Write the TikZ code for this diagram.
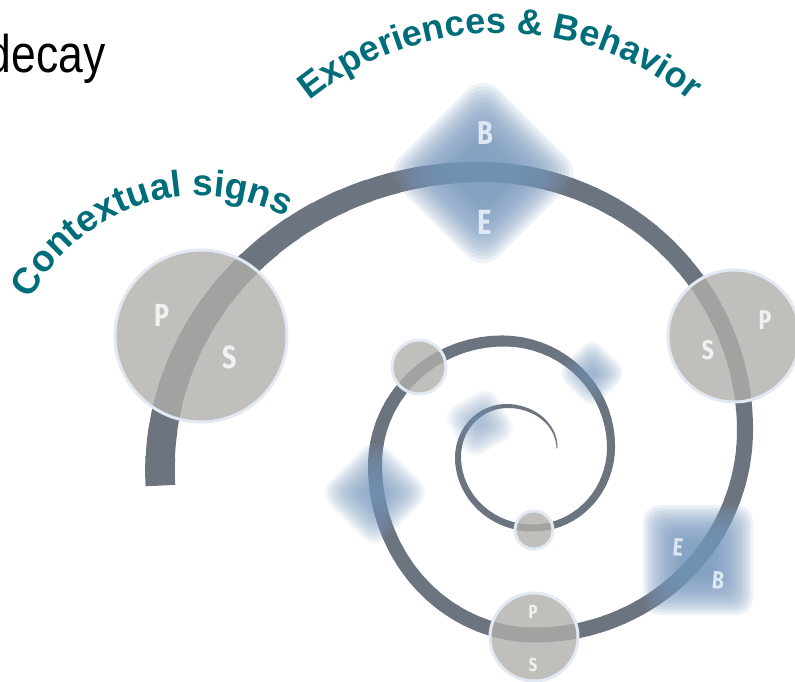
\documentclass[tikz,border=0pt]{standalone}
\usepackage{fontspec}
\usepackage{graphicx}
\usepackage{xcolor}
\setmainfont{Liberation Sans}
\newfontfamily\handfont{Fira Sans}
\usetikzlibrary{decorations.text}

\definecolor{bandgray}{RGB}{108,116,128}
\definecolor{blobblue}{RGB}{120,152,188}
\definecolor{discgray}{RGB}{176,175,170}
\definecolor{ringblue}{RGB}{226,233,242}
\definecolor{signteal}{RGB}{0,110,122}
\definecolor{letterwhite}{RGB}{240,241,242}
\definecolor{letterblue}{RGB}{222,232,243}
\newcommand{\signfont}{\bfseries\fontsize{37}{40}\selectfont}
\newcommand{\signfontb}{\bfseries\fontsize{36}{40}\selectfont}
\newcommand{\handletter}[1]{\scalebox{0.78}[1]{#1}}

\begin{document}
\begin{tikzpicture}[
    x=1pt, y=-1pt,
    band/.style={draw=bandgray},
    disc/.style={circle, fill=discgray, fill opacity=0.8, draw=ringblue, line width=3pt, inner sep=0pt},
    glyph/.style={text=letterwhite, inner sep=0pt},
    blobglyph/.style={text=letterblue, inner sep=0pt},
    arctext/.style={decorate, decoration={text along path, text align=center, text color=signteal}}
]
    \useasboundingbox (0,0) rectangle (795,682);

    % Spiral band, thinner towards the centre
    \foreach \cx/\cy/\rx/\ry/\a/\d/\wa/\wb in {
        480/470/320/298/-183/93/30/20,
        480/430/265/258/-90/90/20/16,
        535/430/210/205/0/90/16/15,
        535/465/160/170/90/90/15/14,
        503/465/128/124/180/90/14/11,
        503/447/108/106/270/90/11/8,
        533/447/78/81/0/90/8/7,
        533/457/75/71/90/90/7/6,
        507/457/49/51/180/90/6/4,
        507/448/50/42/270/90/4/1} {
        \foreach \k in {0,...,17} {
            \pgfmathsetmacro{\st}{\a+\d*\k/18}
            \pgfmathsetmacro{\en}{\a+\d*(\k+1)/18+0.5}
            \pgfmathsetmacro{\w}{\wa+(\wb-\wa)*(\k+0.5)/18}
            \pgfmathsetmacro{\px}{\cx+\rx*cos(\st)}
            \pgfmathsetmacro{\py}{\cy+\ry*sin(\st)}
            \draw[band, line width=\w pt] (\px,\py)
                arc[start angle=\st, end angle=\en, x radius=\rx, y radius=\ry];
        }
    }

    % Blurred experiences / behaviour patches
    \foreach \bx/\by/\hin/\hout/\rot/\op/\rf in {
        483/173/26/70/45/0.13/0.3,
        698/560/16/55/0/0.13/0.3,
        375/493/4/40/45/0.1/0.4,
        592/373/4/26/45/0.07/0.5,
        480/423/4/28/30/0.06/0.5} {
        \foreach \s in {0,...,15} {
            \pgfmathsetmacro{\h}{\hin+(\hout-\hin)*\s/15}
            \pgfmathsetmacro{\rc}{\rf*\h}
            \fill[blobblue, fill opacity=\op, shift={(\bx,\by)}, rotate=\rot, rounded corners=\rc pt]
                (-\h,-\h) rectangle (\h,\h);
        }
    }

    % Sign discs
    \node[disc, minimum size=172pt] (bigdisc) at (201,336) {};
    \node[disc, minimum size=132pt] (rightdisc) at (734,336) {};
    \node[disc, minimum size=54pt] (middisc) at (419,367) {};
    \node[disc, minimum size=38pt] (innerdisc) at (534,530) {};
    \node[disc, minimum size=88pt] (bottomdisc) at (534,637) {};

    % Letters
    \node[glyph, font=\handfont\bfseries\fontsize{32}{32}\selectfont] (bigP) at (162,315) {\handletter{P}};
    \node[glyph, font=\handfont\bfseries\fontsize{32}{32}\selectfont] (bigS) at (230,357) {\handletter{S}};
    \node[glyph, font=\handfont\bfseries\fontsize{27}{27}\selectfont] (rightS) at (708,350) {\handletter{S}};
    \node[glyph, font=\handfont\bfseries\fontsize{27}{27}\selectfont] (rightP) at (765,320) {\handletter{P}};
    \node[glyph, font=\handfont\bfseries\fontsize{19}{19}\selectfont] (bottomP) at (533,612) {\handletter{P}};
    \node[glyph, font=\handfont\bfseries\fontsize{19}{19}\selectfont] (bottomS) at (533,665) {\handletter{S}};
    \node[blobglyph, font=\handfont\bfseries\fontsize{33}{33}\selectfont] (topB) at (485,133) {\handletter{B}};
    \node[blobglyph, font=\handfont\bfseries\fontsize{35}{35}\selectfont] (topE) at (485,222) {\handletter{E}};
    \node[blobglyph, font=\handfont\bfseries\fontsize{25}{25}\selectfont, rotate=-5] (squareE) at (678,547) {\handletter{E}};
    \node[blobglyph, font=\handfont\bfseries\fontsize{25}{25}\selectfont, rotate=-5] (squareB) at (718,580) {\handletter{B}};

    % Curved headings
    \path[arctext, decoration={text={|\signfont|Contextual signs}}]
        (18.3,330.4) arc[start angle=-163, end angle=-53, radius=190];
    \path[arctext, decoration={text={|\signfontb|Experiences {\&} Behavior}}]
        (268.7,140.9) arc[start angle=-140, end angle=-40, radius=302];

    % Title fragment
    \node[anchor=base east, font=\fontsize{53}{60}\selectfont] (decay) at (109,73) {\scalebox{0.84}[1]{decay}};
\end{tikzpicture}
\end{document}
